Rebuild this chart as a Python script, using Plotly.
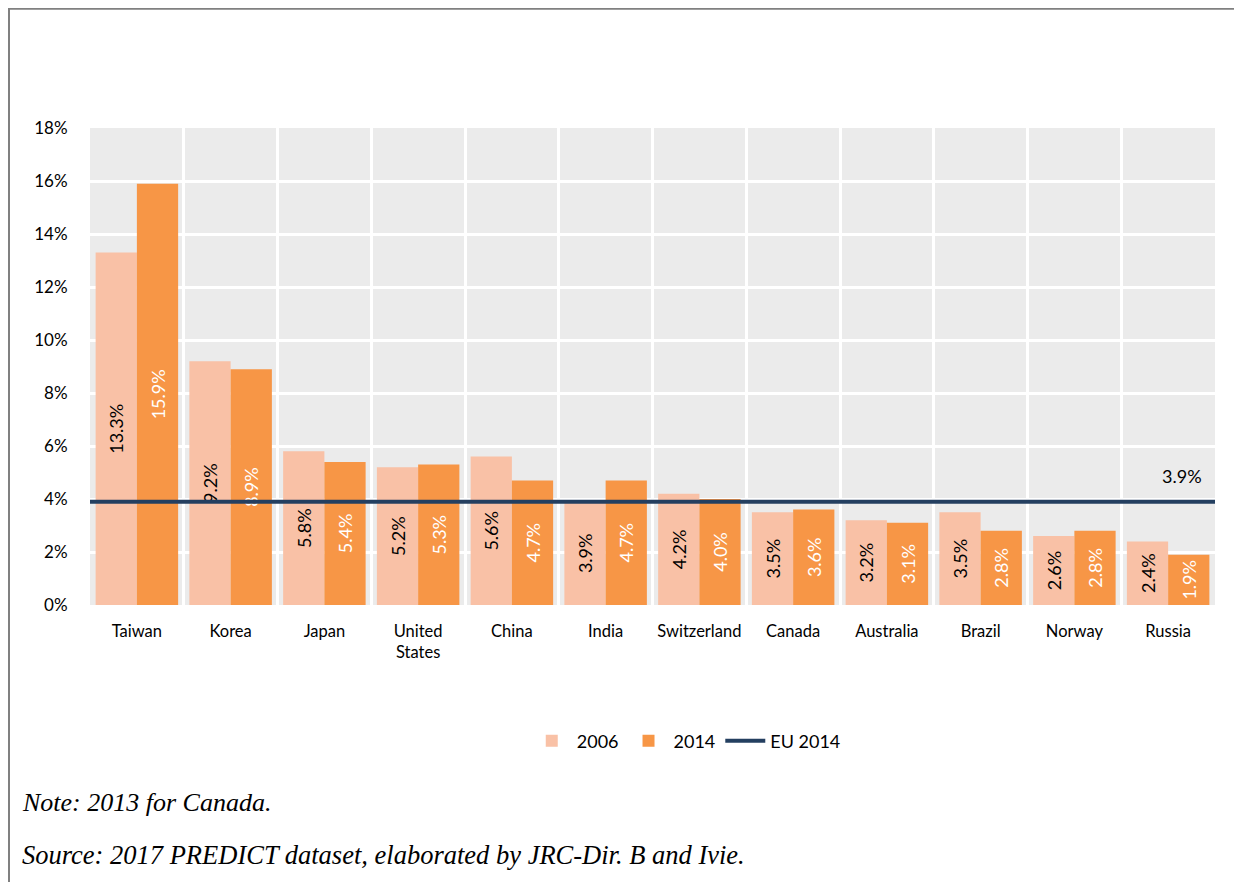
import plotly.graph_objects as go

"""
Bar chart of 2006 vs 2014 shares per country, with the EU 2014 level as a line.
"""

countries = ['Taiwan', 'Korea', 'Japan', 'United<br>States', 'China', 'India',
             'Switzerland', 'Canada', 'Australia', 'Brazil', 'Norway', 'Russia']
share_2006 = [13.3, 9.2, 5.8, 5.2, 5.6, 3.9, 4.2, 3.5, 3.2, 3.5, 2.6, 2.4]
share_2014 = [15.9, 8.9, 5.4, 5.3, 4.7, 4.7, 4.0, 3.6, 3.1, 2.8, 2.8, 1.9]
eu_2014 = 3.9
y_ticks = [0, 2, 4, 6, 8, 10, 12, 14, 16, 18]

FONT = 'Lato'
COLOR_2006 = '#F9C1A6'
COLOR_2014 = '#F79646'
COLOR_EU = '#243F60'

fig = go.Figure()

# bars - 2006 (dark labels) and 2014 (white labels)
fig.add_trace(go.Bar(name='2006', x=countries, y=share_2006,
                     marker={'color': COLOR_2006, 'line': {'width': 0}},
                     texttemplate='%{y:.1f}%', textposition='inside',
                     insidetextanchor='middle', textangle=-90,
                     textfont={'family': FONT, 'size': 18, 'color': '#000'}))
fig.add_trace(go.Bar(name='2014', x=countries, y=share_2014,
                     marker={'color': COLOR_2014, 'line': {'width': 0}},
                     texttemplate='%{y:.1f}%', textposition='inside',
                     insidetextanchor='middle', textangle=-90,
                     textfont={'family': FONT, 'size': 18, 'color': '#fff'}))

# EU line spanning the whole plot width, drawn on a hidden linear x axis
fig.add_trace(go.Scatter(name='EU 2014', x=[0, 1], y=[eu_2014, eu_2014],
                         xaxis='x2', mode='lines',
                         line={'color': COLOR_EU, 'width': 4},
                         hoverinfo='skip'))

fig.add_annotation(x=0.99, y=eu_2014, xref='x2', yref='y', xanchor='right',
                   yanchor='bottom', yshift=13, showarrow=False,
                   text='%.1f%%' % eu_2014,
                   font={'family': FONT, 'size': 18, 'color': '#000'})

# notes under the chart
fig.add_annotation(x=-0.062, y=-0.415, xref='paper', yref='paper', xanchor='left',
                   yanchor='middle', showarrow=False, text='<i>Note: 2013 for Canada.</i>',
                   font={'family': 'Liberation Serif', 'size': 26, 'color': '#000'})
fig.add_annotation(x=-0.062, y=-0.524, xref='paper', yref='paper', xanchor='left',
                   yanchor='middle', showarrow=False,
                   text='<i>Source: 2017 PREDICT dataset, elaborated by JRC-Dir. B and Ivie.</i>',
                   font={'family': 'Liberation Serif', 'size': 26.5, 'color': '#000'})

# outer frame
fig.add_shape(type='rect', xref='paper', yref='paper', x0=-0.072, x1=1.05,
              y0=-0.7, y1=1.25, line={'color': '#808080', 'width': 2},
              layer='below')

# page body has an 8px margin, so the figure is 8px smaller than the window
fig.update_layout(
    width=1234, height=874,
    margin={'l': 82, 'r': 27, 't': 120, 'b': 277},
    paper_bgcolor='white', plot_bgcolor='#EBEBEB',
    font={'family': FONT, 'size': 17, 'color': '#000'},
    barmode='group', bargap=0.12, bargroupgap=0,
    showlegend=True,
    legend={'orientation': 'h', 'x': 0.53, 'xanchor': 'center',
            'y': -0.285, 'yanchor': 'middle', 'font': {'size': 18},
            'itemwidth': 40, 'traceorder': 'normal'},
    xaxis={'type': 'category', 'tickson': 'boundaries', 'showgrid': True,
           'gridcolor': 'white', 'gridwidth': 3, 'ticks': '',
           'ticklabelstandoff': 14, 'showline': False,
           'zeroline': False, 'tickangle': 0, 'tickfont': {'size': 16.5}},
    xaxis2={'overlaying': 'x', 'range': [0, 1], 'visible': False},
    yaxis={'range': [0, 18], 'tickvals': y_ticks,
           'ticktext': ['%d%%' % v for v in y_ticks],
           'showgrid': True, 'gridcolor': 'white', 'gridwidth': 3,
           'zeroline': False, 'ticks': 'outside', 'ticklen': 18,
           'tickcolor': 'rgba(0,0,0,0)'},
)

fig.write_html("out.html")
